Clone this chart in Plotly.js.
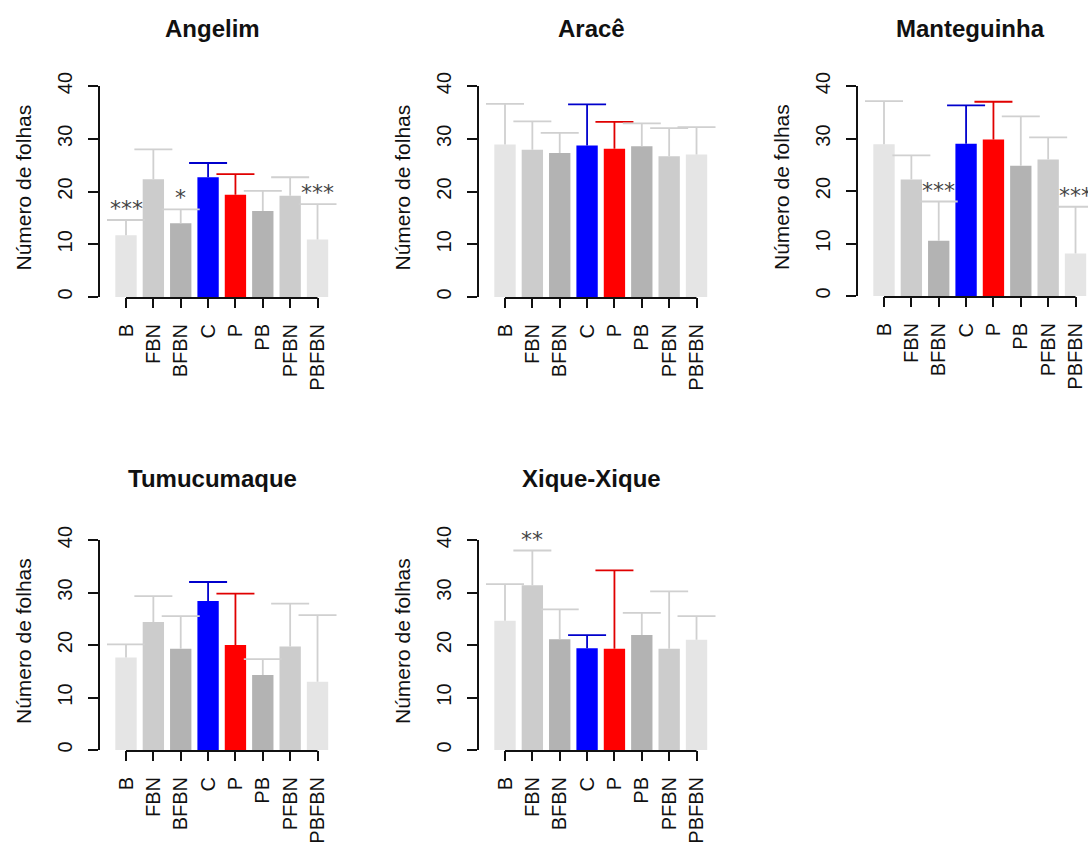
<!DOCTYPE html>
<html>
<head>
<meta charset="utf-8">
<script src="https://cdn.plot.ly/plotly-3.0.1.min.js"></script>
<style>
html, body { margin: 0; padding: 0; overflow: hidden; background: #fff; }
#chart { width: 1088px; height: 843px; }
</style>
</head>
<body>
<div id="chart"></div>
<script>
// ---- Data ----
const categories = ['B', 'FBN', 'BFBN', 'C', 'P', 'PB', 'PFBN', 'PBFBN'];
const yTicks = [0, 10, 20, 30, 40];
const yAxisTitle = 'Número de folhas';

const panelNames = ['Angelim', 'Aracê', 'Manteguinha', 'Tumucumaque', 'Xique-Xique'];

const angelimMean  = [11.7, 22.3, 14.0, 22.7, 19.4, 16.3, 19.2, 10.9];
const angelimUpper = [14.6, 28.0, 16.6, 25.4, 23.3, 20.1, 22.7, 17.6];
const angelimSig   = ['***', '', '*', '', '', '', '', '***'];

const araceMean  = [28.9, 27.9, 27.3, 28.7, 28.1, 28.6, 26.7, 27.0];
const araceUpper = [36.6, 33.3, 31.1, 36.5, 33.2, 32.9, 32.0, 32.2];
const araceSig   = ['', '', '', '', '', '', '', ''];

const manteguinhaMean  = [28.9, 22.2, 10.5, 29.0, 29.8, 24.8, 26.0, 8.1];
const manteguinhaUpper = [37.1, 26.8, 18.0, 36.3, 37.0, 34.2, 30.2, 17.0];
const manteguinhaSig   = ['', '', '***', '', '', '', '', '***'];

const tumucumaqueMean  = [17.6, 24.4, 19.3, 28.4, 20.0, 14.3, 19.7, 13.0];
const tumucumaqueUpper = [20.1, 29.3, 25.5, 32.0, 29.8, 17.3, 27.9, 25.7];
const tumucumaqueSig   = ['', '', '', '', '', '', '', ''];

const xiqueMean  = [24.6, 31.4, 21.1, 19.4, 19.3, 21.9, 19.3, 21.0];
const xiqueUpper = [31.6, 38.0, 26.8, 21.9, 34.2, 26.1, 30.2, 25.5];
const xiqueSig   = ['', '**', '', '', '', '', '', ''];

// ---- Styles ----
const barColors = ['#e5e5e5', '#cccccc', '#b3b3b3', '#0000ff', '#ff0000', '#b3b3b3', '#cccccc', '#e5e5e5'];
const errColors = ['#d0d0d0', '#d0d0d0', '#d0d0d0', '#0000cc', '#e00000', '#d0d0d0', '#d0d0d0', '#d0d0d0'];
const FONT = 'Liberation Sans, Arial, sans-serif';

const W = 1088, H = 843;
const pxPerUnit = 27.36;
const leftPad = 26 / pxPerUnit;
// panel geometry in pixels: axis-left, plot top, plot bottom, plot right, title centre y
const geo = [
  {L: 100, T: 86, B: 297, R: 343.5, TY: 28},
  {L: 479, T: 86, B: 297, R: 722.5, TY: 28},
  {L: 858, T: 86, B: 296, R: 1088, TY: 28},
  {L: 100, T: 540, B: 750, R: 343.5, TY: 479},
  {L: 479, T: 540, B: 750, R: 722.5, TY: 479}
];
const means = [angelimMean, araceMean, manteguinhaMean, tumucumaqueMean, xiqueMean];
const uppers = [angelimUpper, araceUpper, manteguinhaUpper, tumucumaqueUpper, xiqueUpper];
const sigs = [angelimSig, araceSig, manteguinhaSig, tumucumaqueSig, xiqueSig];

const data = [];
const layout = {
  width: W, height: H,
  margin: {l: 0, r: 0, t: 0, b: 0},
  paper_bgcolor: '#fff', plot_bgcolor: '#fff',
  showlegend: false,
  barmode: 'overlay',
  font: {family: FONT, color: '#000'},
  annotations: [],
  shapes: []
};

panelNames.forEach((name, p) => {
  const g = geo[p];
  const k = p + 1;
  const xa = 'x' + (k === 1 ? '' : k);
  const ya = 'y' + (k === 1 ? '' : k);
  const xKey = 'xaxis' + (k === 1 ? '' : k);
  const yKey = 'yaxis' + (k === 1 ? '' : k);

  categories.forEach((cat, i) => {
    // bar with upper whisker stem (no caps)
    data.push({
      type: 'bar',
      x: [cat], y: [means[p][i]],
      width: 0.78,
      marker: {color: barColors[i], line: {width: 0}},
      error_y: {
        type: 'data', symmetric: false,
        array: [uppers[p][i] - means[p][i]], arrayminus: [0],
        color: errColors[i], thickness: 1.8, width: 0
      },
      xaxis: xa, yaxis: ya,
      hoverinfo: 'x+y'
    });
    // cap at the top of the whisker
    data.push({
      type: 'scatter', mode: 'markers',
      x: [cat], y: [uppers[p][i]],
      marker: {size: 1, opacity: 0},
      error_y: {
        type: 'data', symmetric: true, array: [0],
        color: errColors[i], thickness: 1.8, width: 19
      },
      xaxis: xa, yaxis: ya,
      hoverinfo: 'skip', cliponaxis: false
    });
    if (sigs[p][i]) {
      layout.annotations.push({
        xref: xa, yref: ya, x: cat, y: uppers[p][i],
        text: sigs[p][i], showarrow: false,
        yanchor: 'bottom', xanchor: 'center', yshift: -3,
        font: {family: 'DejaVu Sans, sans-serif', size: 22, color: '#444'}
      });
    }
  });

  const rangeEnd = -leftPad + (g.R - g.L) / pxPerUnit;
  layout[xKey] = {
    domain: [g.L / W, g.R / W],
    anchor: ya,
    type: 'category',
    categoryorder: 'array', categoryarray: categories,
    range: [-leftPad, rangeEnd],
    showline: false, showgrid: false, zeroline: false,
    ticks: 'outside', ticklen: 10, tickwidth: 2, tickcolor: '#111',
    tickangle: -90, ticklabelstandoff: 8,
    tickfont: {family: FONT, size: 20, color: '#111'},
    fixedrange: true
  };
  layout[yKey] = {
    domain: [1 - g.B / H, 1 - g.T / H],
    anchor: xa,
    range: [0, 40],
    tickmode: 'array', tickvals: yTicks, ticktext: yTicks.map(String),
    showline: true, linewidth: 2, linecolor: '#111',
    showgrid: false, zeroline: false,
    ticks: 'outside', ticklen: 10, tickwidth: 2, tickcolor: '#111',
    tickangle: -90, ticklabelstandoff: 8,
    tickfont: {family: FONT, size: 20, color: '#111'},
    fixedrange: true
  };

  // R-style x axis line: from first to last category tick
  layout.shapes.push({
    type: 'line', xref: xa, yref: 'paper',
    x0: categories[0], x1: categories[categories.length - 1],
    y0: 1 - (g.B + 1) / H, y1: 1 - (g.B + 1) / H,
    line: {color: '#111', width: 2}
  });

  // Panel title
  layout.annotations.push({
    xref: 'paper', yref: 'paper',
    x: (g.L + 112) / W, y: 1 - g.TY / H,
    text: '<b>' + name + '</b>', showarrow: false,
    xanchor: 'center', yanchor: 'middle',
    font: {family: FONT, size: 24, color: '#111'}
  });
  // Y axis title
  layout.annotations.push({
    xref: 'paper', yref: 'paper',
    x: (g.L - 77) / W, y: 1 - ((g.T + g.B) / 2 - 4) / H,
    text: yAxisTitle, showarrow: false, textangle: -90,
    xanchor: 'center', yanchor: 'middle',
    font: {family: FONT, size: 21, color: '#111'}
  });
});

Plotly.newPlot('chart', data, layout, {displayModeBar: false, staticPlot: true});
</script>
</body>
</html>
